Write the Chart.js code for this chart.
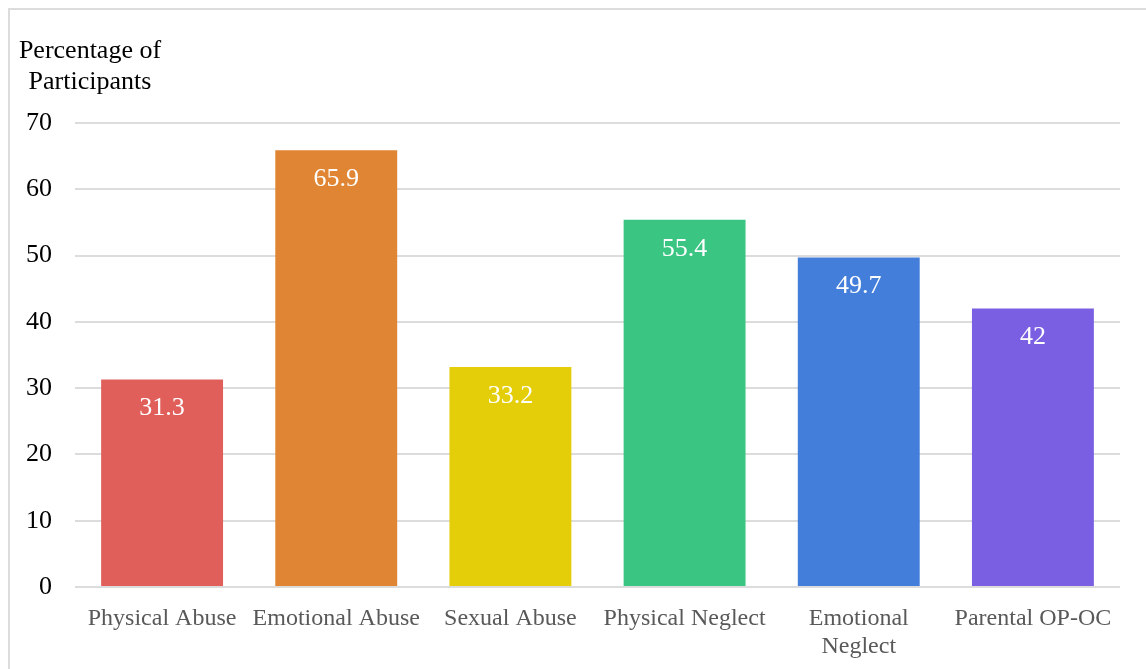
<!DOCTYPE html>
<html>
<head>
<meta charset="utf-8">
<script src="https://cdn.jsdelivr.net/npm/chart.js@4.4.1/dist/chart.umd.min.js"></script>
<style>
  html, body { margin: 0; padding: 0; background: #ffffff; overflow: hidden; }
  #frame { position: absolute; left: 8px; top: 8px; width: 1200px; height: 700px;
           border-left: 2px solid #dcdcdc; border-top: 2px solid #dcdcdc; }
  #wrap { position: absolute; left: 0; top: 0; width: 1146px; height: 669px; }
</style>
</head>
<body>
<div id="frame"></div>
<div id="wrap"><canvas id="c" width="1146" height="669"></canvas></div>
<script>
const categories = ['Physical Abuse', 'Emotional Abuse', 'Sexual Abuse', 'Physical Neglect', ['Emotional', 'Neglect'], 'Parental OP-OC'];
const values = [31.3, 65.9, 33.2, 55.4, 49.7, 42];
const valueLabels = ['31.3', '65.9', '33.2', '55.4', '49.7', '42'];
const barColors = ['#E15F5B', '#E08534', '#E3CE09', '#3BC583', '#437EDB', '#7A5FE2'];
const yTicks = [0, 10, 20, 30, 40, 50, 60, 70];
const titleLines = ['Percentage of', 'Participants'];

const SERIF = '"Liberation Serif", "Times New Roman", serif';

const valueLabelPlugin = {
  id: 'valueLabels',
  afterDatasetsDraw(chart) {
    const ctx = chart.ctx;
    const meta = chart.getDatasetMeta(0);
    ctx.save();
    ctx.fillStyle = '#ffffff';
    ctx.font = '26px ' + SERIF;
    ctx.textAlign = 'center';
    ctx.textBaseline = 'middle';
    meta.data.forEach((bar, i) => {
      ctx.fillText(valueLabels[i], bar.x, bar.y + 29);
    });
    ctx.restore();
  }
};

const axisTitlePlugin = {
  id: 'axisTitle',
  afterDraw(chart) {
    const ctx = chart.ctx;
    ctx.save();
    ctx.fillStyle = '#000000';
    ctx.font = '26px ' + SERIF;
    ctx.textAlign = 'center';
    ctx.textBaseline = 'alphabetic';
    ctx.fillText(titleLines[0], 90, 58);
    ctx.fillText(titleLines[1], 90, 89);
    ctx.restore();
  }
};

new Chart(document.getElementById('c'), {
  type: 'bar',
  data: {
    labels: categories,
    datasets: [{
      data: values,
      backgroundColor: barColors,
      borderWidth: 0,
      barPercentage: 0.7,
      categoryPercentage: 1.0
    }]
  },
  options: {
    responsive: false,
    animation: false,
    layout: { padding: { top: 123, left: 0, right: 26, bottom: 0 } },
    plugins: {
      legend: { display: false },
      tooltip: { enabled: false },
      title: { display: false }
    },
    scales: {
      x: {
        grid: { display: false, drawTicks: false },
        border: { display: false },
        ticks: {
          color: '#595959',
          font: { family: SERIF, size: 24, lineHeight: 1.2 },
          padding: 17,
          maxRotation: 0,
          autoSkip: false
        },
        afterFit(axis) { axis.height = 82; }
      },
      y: {
        min: 0,
        max: 70,
        afterBuildTicks(axis) { axis.ticks = yTicks.map(v => ({ value: v })); },
        grid: { color: '#dcdcdc', lineWidth: 2, drawTicks: false },
        border: { display: false },
        ticks: {
          color: '#000000',
          font: { family: SERIF, size: 26 },
          padding: 23
        },
        afterFit(axis) { axis.width = 75; }
      }
    }
  },
  plugins: [valueLabelPlugin, axisTitlePlugin]
});
</script>
</body>
</html>
